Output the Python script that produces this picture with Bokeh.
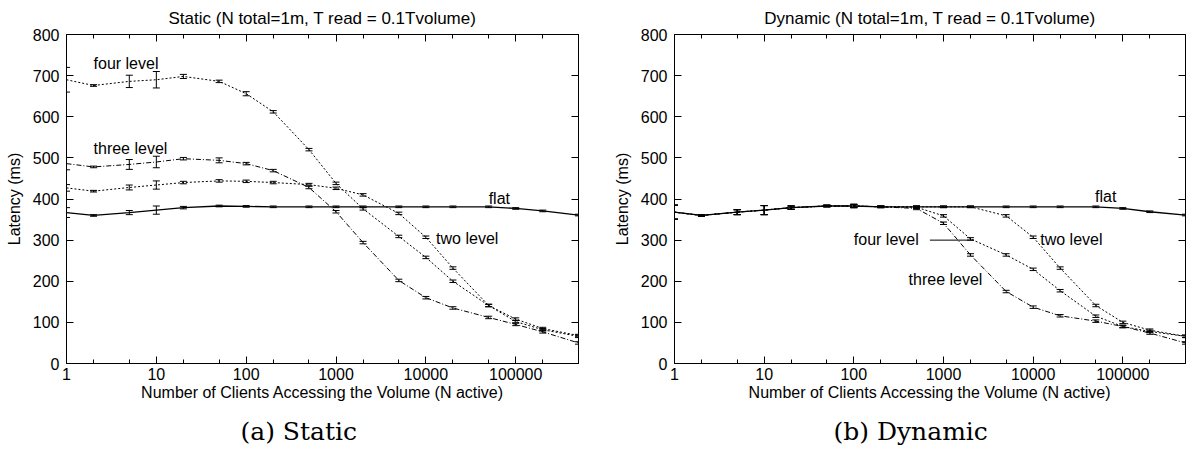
from bokeh.plotting import figure
from bokeh.models import (Range1d, FixedTicker, PrintfTickFormatter, LogAxis, LinearAxis,
                          CustomJSTickFormatter, Whisker, TeeHead, ColumnDataSource, Label, Title)
from bokeh.layouts import row
from bokeh.embed import file_html
from bokeh.resources import INLINE

FONT = "Liberation Sans"
SERIF = "DejaVu Serif"

# ---------------- data ----------------
n_active = [1, 2, 5, 10, 20, 50, 100, 200, 500, 1000, 2000, 5000,
            10000, 20000, 50000, 100000, 200000, 500000]

# Static
static_flat = [367, 360, 367, 373, 379, 383, 382, 381, 381, 381, 381, 381, 381, 381, 381, 377, 371, 361]
static_flat_err = [12, 2, 5, 10, 3, 2, 2, 2, 2, 2, 2, 2, 2, 2, 2, 2, 2, 2]
static_two = [427, 419, 428, 434, 440, 444, 443, 440, 435, 426, 410, 365, 307, 232, 141, 108, 85, 68]
static_two_err = [8, 2, 6, 10, 3, 3, 3, 3, 3, 3, 3, 3, 3, 3, 3, 3, 3, 3]
static_three = [486, 478, 484, 490, 498, 494, 486, 469, 428, 369, 294, 202, 160, 135, 112, 95, 77, 50]
static_three_err = [15, 2, 12, 14, 3, 6, 3, 3, 3, 3, 3, 3, 3, 3, 3, 3, 3, 3]
static_four = [690, 676, 686, 690, 698, 686, 656, 612, 520, 438, 376, 309, 258, 200, 141, 102, 82, 66]
static_four_err = [30, 2, 15, 20, 5, 3, 5, 3, 3, 3, 3, 3, 3, 3, 3, 3, 3, 3]

# Dynamic
dynamic_flat = [368, 360, 368, 373, 379, 383, 383, 381, 381, 381, 381, 381, 381, 381, 381, 377, 369, 361]
dynamic_flat_err = [17, 2, 6, 11, 4, 2, 4, 2, 2, 2, 2, 2, 2, 2, 2, 2, 2, 2]
dynamic_two = [368, 360, 368, 373, 379, 383, 383, 381, 381, 381, 381, 359, 307, 232, 141, 100, 81, 66]
dynamic_two_err = [17, 2, 6, 11, 4, 2, 4, 2, 2, 2, 2, 3, 3, 3, 3, 3, 3, 3]
dynamic_three = [368, 360, 368, 373, 379, 383, 383, 381, 377, 341, 264, 175, 137, 116, 103, 90, 74, 50]
dynamic_three_err = [17, 2, 6, 11, 4, 2, 4, 2, 3, 3, 3, 3, 3, 3, 3, 3, 3, 3]
dynamic_four = [368, 360, 368, 373, 379, 383, 383, 381, 380, 359, 303, 264, 229, 177, 115, 90, 78, 66]
dynamic_four_err = [17, 2, 6, 11, 4, 2, 4, 2, 3, 3, 3, 3, 3, 3, 3, 3, 3, 3]

x_ticks = [1, 10, 100, 1000, 10000, 100000]
x_tick_labels = ["1", "10", "100", "1000", "10000", "100000"]
x_minor_ticks = [2, 5, 20, 50, 200, 500, 2000, 5000, 20000, 50000, 200000, 500000]
y_ticks = [0, 100, 200, 300, 400, 500, 600, 700, 800]

titles = ["Static (N total=1m, T read = 0.1Tvolume)",
          "Dynamic (N total=1m, T read = 0.1Tvolume)"]
captions = ["(a) Static", "(b) Dynamic"]
x_title = "Number of Clients Accessing the Volume (N active)"
y_title = "Latency (ms)"

# series label annotations: (text, x, y)
static_labels = [("four level", 2, 730), ("three level", 2, 523),
                 ("flat", 50000, 402), ("two level", 13000, 304)]
dynamic_labels = [("flat", 49000, 406), ("two level", 12000, 302),
                  ("four level", 100, 302), ("three level", 408, 205)]
dynamic_pointer_x = [705, 2180]
dynamic_pointer_y = [300, 300]

styles = {
    "flat": dict(line_dash="solid", line_width=1.3),
    "two": dict(line_dash="2 2", line_width=1.0),
    "three": dict(line_dash="5 2 1 2", line_width=1.0),
    "four": dict(line_dash="2 2", line_width=1.0),
}

TS = "16px"


def make_fig(width, border_left, border_right, series, labels, title, caption, cap_offset):
    ttl = Title(text=title, align="center", text_font=FONT, text_font_size="17px",
                text_font_style="normal", text_color="black", standoff=13)
    p = figure(width=width, height=456, x_axis_type="log", title=ttl,
               x_range=Range1d(1, 500000), y_range=Range1d(0, 800),
               output_backend="svg", toolbar_location=None,
               min_border_left=border_left, min_border_right=border_right,
               min_border_top=34, min_border_bottom=93)
    p.xgrid.visible = False
    p.ygrid.visible = False
    p.outline_line_color = "black"
    p.outline_line_width = 1
    p.background_fill_color = "white"
    p.border_fill_color = "white"

    xt = FixedTicker(ticks=x_ticks, minor_ticks=x_minor_ticks)
    yt = FixedTicker(ticks=y_ticks, minor_ticks=[])

    xa = p.xaxis[0]
    xa.ticker = xt
    xa.formatter = PrintfTickFormatter(format="%d")
    xa.major_label_overrides = {t: l for t, l in zip(x_ticks, x_tick_labels)}
    xa.axis_label = x_title
    ya = p.yaxis[0]
    ya.ticker = yt
    ya.axis_label = y_title

    for ax in (xa, ya):
        ax.major_tick_in = 7
        ax.major_tick_out = 0
        ax.minor_tick_in = 4
        ax.minor_tick_out = 0
        ax.axis_line_color = "black"
        ax.major_tick_line_color = "black"
        ax.minor_tick_line_color = "black"
        ax.major_label_text_font = FONT
        ax.major_label_text_font_size = TS
        ax.major_label_text_color = "black"
        ax.axis_label_text_font = FONT
        ax.axis_label_text_font_size = TS
        ax.axis_label_text_font_style = "normal"
        ax.axis_label_text_color = "black"
    xa.major_label_standoff = 4
    xa.axis_label_standoff = 1
    ya.major_label_standoff = 7
    ya.axis_label_standoff = 7

    blank = CustomJSTickFormatter(code="return ''")
    top = LogAxis(ticker=xt, formatter=blank)
    right = LinearAxis(ticker=yt, formatter=blank)
    for ax in (top, right):
        ax.major_tick_in = 7
        ax.major_tick_out = 0
        ax.minor_tick_in = 4
        ax.minor_tick_out = 0
        ax.major_label_standoff = 0
        ax.axis_line_color = "black"
    p.add_layout(top, "above")
    p.add_layout(right, "right")

    p.add_layout(Title(text=caption, align="left", offset=cap_offset, text_font=SERIF,
                       text_font_size="25px", text_font_style="normal",
                       text_color="black", standoff=22), "below")

    for key, ys, errs in series:
        p.line(n_active, ys, line_color="black", **styles[key])
        src = ColumnDataSource(dict(x=n_active,
                                    lo=[y - e for y, e in zip(ys, errs)],
                                    hi=[y + e for y, e in zip(ys, errs)]))
        p.add_layout(Whisker(base="x", lower="lo", upper="hi", source=src,
                             line_color="black", line_width=1,
                             lower_head=TeeHead(size=7, line_color="black", line_width=1),
                             upper_head=TeeHead(size=7, line_color="black", line_width=1)))

    for text, x, y in labels:
        p.add_layout(Label(x=x, y=y, text=text, text_font=FONT, text_font_size=TS,
                           text_baseline="middle", text_align="left", text_color="black"))
    return p


p1 = make_fig(608, 66, 30,
              [("flat", static_flat, static_flat_err), ("two", static_two, static_two_err),
               ("three", static_three, static_three_err), ("four", static_four, static_four_err)],
              static_labels, titles[0], captions[0], 174)

p2 = make_fig(583, 66, 6,
              [("flat", dynamic_flat, dynamic_flat_err), ("two", dynamic_two, dynamic_two_err),
               ("three", dynamic_three, dynamic_three_err), ("four", dynamic_four, dynamic_four_err)],
              dynamic_labels, titles[1], captions[1], 159)
p2.line(dynamic_pointer_x, dynamic_pointer_y, line_color="black", line_width=1)

layout = row(p1, p2)
open("out.html", "w").write(file_html(layout, INLINE))
